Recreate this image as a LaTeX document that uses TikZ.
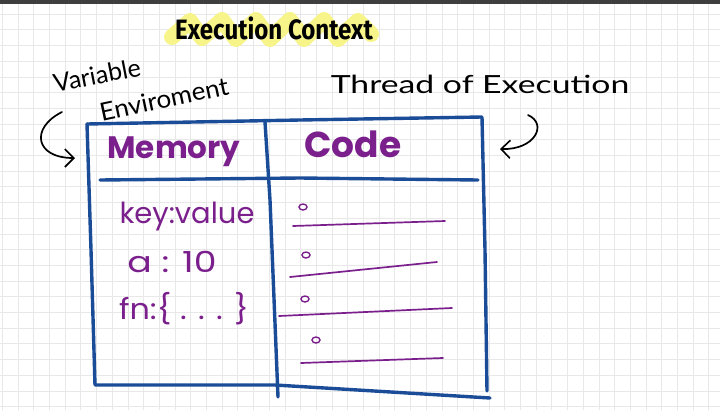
\documentclass[tikz,border=0pt]{standalone}
\usepackage{fontspec}
\usepackage{xcolor}
\usetikzlibrary{arrows.meta, calc, positioning}
\newfontfamily\handfont{Poppins}
\newfontfamily\notefont{Lato}
\newfontfamily\titlefont{Fira Sans}
\definecolor{boxblue}{HTML}{1B4C98}
\definecolor{inkpurple}{HTML}{7A1F8C}
\definecolor{marker}{HTML}{F7F48A}
\definecolor{topbar}{HTML}{3E3E3E}
\tikzset{> = { Straight Barb[length = 9pt, width = 18pt, line width = 1.6pt] }}
\tikzset{
	gridline/.style = {draw = black!9, line width = 0.6pt},
	boxline/.style = {draw = boxblue, line width = 3.4pt, line cap = round, line join = round},
	codeline/.style = {draw = inkpurple, line width = 1.7pt, line cap = round},
	bullet/.style = {draw = inkpurple, line width = 1.4pt},
	heading/.style = {text = inkpurple, font = \handfont\bfseries\fontsize{31}{31}\selectfont},
	entry/.style = {text = inkpurple, inner sep = 1pt, font = \handfont\fontsize{29}{29}\selectfont},
	note/.style = {text = black, inner sep = 0pt, font = \notefont\fontsize{25}{25}\selectfont},
	hand/.style = {draw = black, line width = 1.7pt, line cap = round}
}

\begin{document}
\begin{tikzpicture}[x = 1pt, y = -1pt]
		\useasboundingbox (0, 0) rectangle (720, 410);
		\fill [white] (0, 0) rectangle (720, 410);
		\foreach \i in {0, ..., 46} {
			\draw [gridline] (2.2 + 15.7 * \i, 4) -- (2.2 + 15.7 * \i, 410);
		}
		\foreach \j in {0, ..., 25} {
			\draw [gridline] (0, 14 + 15.7 * \j) -- (720, 14 + 15.7 * \j);
		}
		\fill [topbar] (0, 0) rectangle (720, 4);

		\draw [draw = marker, line width = 16pt, line cap = round, line join = round]
			(172, 37) -- (190, 21) -- (202, 38) -- (222, 20) -- (236, 39) -- (256, 20) -- (270, 39)
			-- (290, 20) -- (304, 39) -- (324, 20) -- (338, 39) -- (358, 21) -- (371, 34);
		\node [font = \titlefont\bfseries\fontsize{28}{28}\selectfont, xscale = 0.86] (title) at (274, 28) {Execution Context};

		\node [note, rotate = 11] (variable) at (97, 75) {Variable};
		\node [note, rotate = 12, xscale = 1.04] (environment) at (164, 99) {Enviroment};
		\node [note, xscale = 1.35] (thread) at (480, 84) {Thread of Execution};

		\coordinate (memtail) at (62, 112);
		\coordinate (memhead) at (75, 158);
		\coordinate (codetail) at (528, 115);
		\coordinate (codehead) at (500, 149);
		\draw [hand, ->] (memtail) .. controls (30, 128) and (35, 158) .. (memhead);
		\draw [hand, ->] (codetail) .. controls (548, 124) and (535, 150) .. (codehead);

		\draw [boxline] (87, 124) -- (300, 120) -- (482, 117) -- (485, 250) -- (487, 391);
		\draw [boxline] (87, 124) -- (91, 250) -- (95, 385) -- (275, 385) -- (490, 398);
		\draw [boxline] (265, 122) -- (270, 200) -- (278, 397);
		\draw [boxline] (100, 180) -- (300, 178) -- (478, 180);

		\node [heading] (memory) at (174, 152) {Memory};
		\node [heading, font = \handfont\bfseries\fontsize{36}{36}\selectfont] (code) at (353, 144) {Code};

		\node [entry] (keyvalue) at (187, 217) {key:value};
		\node [entry, xscale = 1.25] (avalue) at (172, 262) {a : 10};
		\node [entry, xscale = 1.1] (fnvalue) at (184, 309) {fn:\{ . . . \}};

		\draw [bullet] (303, 207) ellipse [x radius = 4, y radius = 3];
		\draw [bullet] (306, 255) ellipse [x radius = 4, y radius = 3];
		\draw [bullet] (305, 299) ellipse [x radius = 4, y radius = 3];
		\draw [bullet] (316, 340) ellipse [x radius = 4, y radius = 3];
		\draw [codeline] (293, 226) -- (445, 221);
		\draw [codeline] (290, 277) -- (437, 262);
		\draw [codeline] (279, 316) -- (452, 308);
		\draw [codeline] (301, 363) -- (443, 358);
	\end{tikzpicture}
\end{document}
